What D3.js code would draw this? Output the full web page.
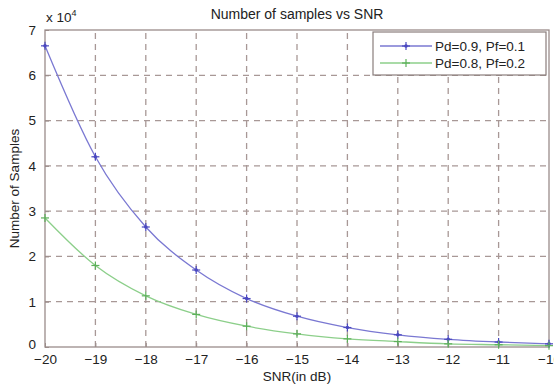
<!DOCTYPE html>
<html>
<head>
<meta charset="utf-8">
<script src="https://cdn.jsdelivr.net/npm/d3@7"></script>
<style>
  body { margin: 0; background: #fff; }
  text { font-family: "Liberation Sans", Arial, sans-serif; fill: #222; }
</style>
</head>
<body>
<script>
// chart data
var snr = [-20, -19, -18, -17, -16, -15, -14, -13, -12, -11, -10];
var samplesA = [6.65, 4.2, 2.65, 1.7, 1.07, 0.68, 0.43, 0.27, 0.17, 0.11, 0.07]; // Pd=0.9, Pf=0.1 (x 10^4)
var samplesB = [2.85, 1.8, 1.13, 0.72, 0.46, 0.29, 0.18, 0.12, 0.07, 0.05, 0.03]; // Pd=0.8, Pf=0.2
var seriesNames = ["Pd=0.9, Pf=0.1", "Pd=0.8, Pf=0.2"];
var xTicks = [-20, -19, -18, -17, -16, -15, -14, -13, -12, -11, -10];
var yTicks = [0, 1, 2, 3, 4, 5, 6, 7];

var w = 554, h = 384;
var margin = {top: 30, right: 5, bottom: 37, left: 45};

var svg = d3.select("body").append("svg")
    .attr("width", w)
    .attr("height", h);

var x = d3.scaleLinear().domain([-20, -10]).range([margin.left, w - margin.right]);
var y = d3.scaleLinear().domain([0, 7]).range([h - margin.bottom, margin.top]);

var gridColor = "#a89896";
var axisColor = "#9a8c8a";

// grid lines (dashed)
svg.append("g").selectAll("line")
  .data(xTicks.slice(1, -1))
  .enter().append("line")
    .attr("x1", d => x(d)).attr("x2", d => x(d))
    .attr("y1", y(0)).attr("y2", y(7))
    .attr("stroke", gridColor)
    .attr("stroke-width", 1.3)
    .attr("stroke-dasharray", "6,5");

svg.append("g").selectAll("line")
  .data(yTicks.slice(1, -1))
  .enter().append("line")
    .attr("x1", x(-20)).attr("x2", x(-10))
    .attr("y1", d => y(d)).attr("y2", d => y(d))
    .attr("stroke", gridColor)
    .attr("stroke-width", 1.3)
    .attr("stroke-dasharray", "6,5");

// box
svg.append("rect")
    .attr("x", x(-20)).attr("y", y(7))
    .attr("width", x(-10) - x(-20)).attr("height", y(0) - y(7))
    .attr("fill", "none")
    .attr("stroke", axisColor)
    .attr("stroke-width", 1.3);

// axes with inward ticks
var xAxis = svg.append("g")
    .attr("transform", "translate(0," + y(0) + ")")
    .call(d3.axisBottom(x).tickValues(xTicks).tickSize(-4).tickPadding(7).tickFormat(d3.format("d")));
xAxis.select(".domain").remove();
xAxis.selectAll("line").attr("stroke", axisColor);
xAxis.selectAll("text").attr("font-size", 13.5).attr("fill", "#222")
    .attr("font-family", "Liberation Sans, Arial, sans-serif");

var yAxis = svg.append("g")
    .attr("transform", "translate(" + x(-20) + ",0)")
    .call(d3.axisLeft(y).tickValues(yTicks).tickSize(-4).tickPadding(9).tickFormat(d3.format("d")));
yAxis.select(".domain").remove();
yAxis.selectAll("line").attr("stroke", axisColor);
yAxis.selectAll("text").attr("font-size", 13.5).attr("fill", "#222")
    .attr("font-family", "Liberation Sans, Arial, sans-serif");
// the "0" sits a little above the corner so it clears "-20"
yAxis.selectAll(".tick text").filter(d => d === 0).attr("dy", "0.1em");

// exponent label
var expo = svg.append("text")
    .attr("x", 46).attr("y", 22)
    .attr("font-size", 13.5);
expo.append("tspan").text("x 10");
expo.append("tspan").attr("font-size", 9).attr("dy", -6).text("4");

// title and axis labels
svg.append("text")
    .attr("x", (x(-20) + x(-10)) / 2).attr("y", 19)
    .attr("text-anchor", "middle")
    .attr("font-size", 14)
    .text("Number of samples vs SNR");

svg.append("text")
    .attr("x", (x(-20) + x(-10)) / 2).attr("y", 381)
    .attr("text-anchor", "middle")
    .attr("font-size", 13.5)
    .text("SNR(in dB)");

svg.append("text")
    .attr("transform", "translate(19," + ((y(0) + y(7)) / 2) + ") rotate(-90)")
    .attr("text-anchor", "middle")
    .attr("font-size", 13.5)
    .text("Number of Samples");

// lines
var colors = ["#7a78d2", "#8ccf8a"];
var markColors = ["#4a48c0", "#5cb05a"];
var allSeries = [samplesA, samplesB];

var line = d3.line()
    .x((d, i) => x(snr[i]))
    .y(d => y(d))
    .curve(d3.curveMonotoneX);

allSeries.forEach(function(vals, k) {
  svg.append("path")
    .datum(vals)
    .attr("d", line)
    .attr("fill", "none")
    .attr("stroke", colors[k])
    .attr("stroke-width", 1.3);
});

function drawMarker(g, cx, cy, k) {
  var s = 4;
  g.append("line").attr("x1", cx - s).attr("x2", cx + s).attr("y1", cy).attr("y2", cy)
    .attr("stroke", markColors[k]).attr("stroke-width", 1.2);
  g.append("line").attr("x1", cx).attr("x2", cx).attr("y1", cy - s).attr("y2", cy + s)
    .attr("stroke", markColors[k]).attr("stroke-width", 1.2);
  if (k === 0) {
    g.append("circle").attr("cx", cx).attr("cy", cy).attr("r", 1.8).attr("fill", markColors[k]);
  }
}

var markG = svg.append("g");
allSeries.forEach(function(vals, k) {
  vals.forEach(function(v, i) {
    drawMarker(markG, x(snr[i]), y(v), k);
  });
});

// legend
var lg = svg.append("g");
lg.append("rect")
    .attr("x", 373).attr("y", 32)
    .attr("width", 173).attr("height", 43)
    .attr("fill", "#fff")
    .attr("stroke", "#8a7e7c")
    .attr("stroke-width", 1.2);

seriesNames.forEach(function(name, k) {
  var ly = 46 + k * 17;
  lg.append("line")
    .attr("x1", 380).attr("x2", 432).attr("y1", ly).attr("y2", ly)
    .attr("stroke", colors[k]).attr("stroke-width", 1.3);
  drawMarker(lg, 406, ly, k);
  lg.append("text")
    .attr("x", 435).attr("y", ly + 5)
    .attr("font-size", 13.5)
    .text(name);
});
</script>
</body>
</html>
